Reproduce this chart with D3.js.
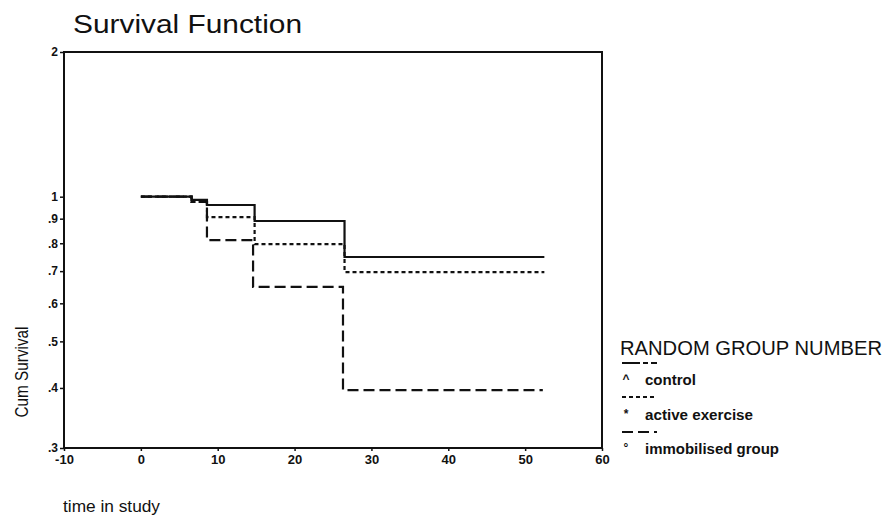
<!DOCTYPE html>
<html>
<head>
<meta charset="utf-8">
<script src="https://cdn.jsdelivr.net/npm/d3@7/dist/d3.min.js"></script>
<style>
  html, body { margin: 0; padding: 0; background: #fff; }
  svg { display: block; }
  text { font-family: "Liberation Sans", Arial, Helvetica, sans-serif; fill: #111; }
</style>
</head>
<body>
<svg id="chart" width="890" height="527"></svg>
<script>
// Kaplan–Meier survival by randomised group
const categories = ["control", "active exercise", "immobilised group"];

// step times (start of each step) and cumulative survival after that time
const controlTimes     = [0, 6.6, 8.6, 14.8, 26.5, 52.5];
const controlSurvival  = [1.0, 0.985, 0.961, 0.890, 0.749, 0.749];
const activeTimes      = [0, 6.6, 8.6, 14.8, 26.5, 52.5];
const activeSurvival   = [1.0, 0.975, 0.907, 0.797, 0.697, 0.697];
const immobTimes       = [0, 6.6, 8.6, 14.6, 26.3, 52.3];
const immobSurvival    = [1.0, 0.975, 0.812, 0.649, 0.396, 0.396];

const xTickValues = [-10, 0, 10, 20, 30, 40, 50, 60];
const xTickLabels = ["-10", "0", "10", "20", "30", "40", "50", "60"];
const yTickValues = [0.3, 0.4, 0.5, 0.6, 0.7, 0.8, 0.9, 1, 2];
const yTickLabels = [".3", ".4", ".5", ".6", ".7", ".8", ".9", "1", "2"];

const svg = d3.select("#chart");

const plot = { left: 64, right: 602, top: 52, bottom: 448 };

const x = d3.scaleLinear().domain([-10, 60]).range([plot.left, plot.right]);
const y = d3.scaleLog().domain([0.3, 2]).range([plot.bottom, plot.top]);

// title
svg.append("text")
  .attr("x", 73).attr("y", 33)
  .attr("font-size", 25)
  .attr("textLength", 229).attr("lengthAdjust", "spacingAndGlyphs")
  .text("Survival Function");

// plot frame
svg.append("rect")
  .attr("x", plot.left).attr("y", plot.top)
  .attr("width", plot.right - plot.left).attr("height", plot.bottom - plot.top)
  .attr("fill", "none").attr("stroke", "#111").attr("stroke-width", 2);

// x axis
const xAxis = d3.axisBottom(x)
  .tickValues(xTickValues)
  .tickFormat((d, i) => xTickLabels[i])
  .tickSize(3).tickSizeOuter(0).tickPadding(4);
const gx = svg.append("g").attr("transform", `translate(0,${plot.bottom})`).call(xAxis);
gx.select(".domain").remove();
gx.selectAll("line").attr("stroke", "#111").attr("stroke-width", 1.5);
gx.selectAll("text")
  .attr("font-size", 13).attr("font-weight", "bold")
  .attr("font-family", "Liberation Sans, Arial, sans-serif").attr("fill", "#111");

// y axis (log scale)
const yAxis = d3.axisLeft(y)
  .tickValues(yTickValues)
  .tickFormat((d, i) => yTickLabels[i])
  .tickSize(4).tickSizeOuter(0).tickPadding(2);
const gy = svg.append("g").attr("transform", `translate(${plot.left},0)`).call(yAxis);
gy.select(".domain").remove();
gy.selectAll("line").attr("stroke", "#111").attr("stroke-width", 1.5);
gy.selectAll("text")
  .attr("font-size", 12).attr("font-weight", "bold")
  .attr("font-family", "Liberation Sans, Arial, sans-serif").attr("fill", "#111");

// axis titles
svg.append("text")
  .attr("transform", "translate(28,372) rotate(-90)")
  .attr("text-anchor", "middle")
  .attr("font-size", 19)
  .attr("textLength", 91).attr("lengthAdjust", "spacingAndGlyphs")
  .text("Cum Survival");

svg.append("text")
  .attr("x", 63).attr("y", 512)
  .attr("font-size", 16)
  .attr("textLength", 97).attr("lengthAdjust", "spacingAndGlyphs")
  .text("time in study");

// survival curves
const series = [
  { name: categories[0], times: controlTimes, surv: controlSurvival, dash: null },
  { name: categories[1], times: activeTimes,  surv: activeSurvival,  dash: "4,3" },
  { name: categories[2], times: immobTimes,   surv: immobSurvival,   dash: "11,5" }
];

const line = d3.line()
  .x(d => x(d[0]))
  .y(d => y(d[1]))
  .curve(d3.curveStepAfter);

// draw the two broken-line groups first so the solid control line sits on top
[series[2], series[1], series[0]].forEach(s => {
  const pts = s.times.map((t, i) => [t, s.surv[i]]);
  svg.append("path")
    .datum(pts)
    .attr("d", line)
    .attr("fill", "none")
    .attr("stroke", "#111")
    .attr("stroke-width", 2.2)
    .attr("stroke-dasharray", s.dash);
});

// legend
const lg = svg.append("g");
lg.append("text")
  .attr("x", 620).attr("y", 355)
  .attr("font-size", 20)
  .attr("textLength", 262).attr("lengthAdjust", "spacingAndGlyphs")
  .text("RANDOM GROUP NUMBER");

const legendRows = [
  { sampleY: 363, textY: 385, marker: "^", textLen: 51,  dash: "18,3,5,3,6" },
  { sampleY: 397, textY: 420, marker: "*", textLen: 108, dash: "4,3" },
  { sampleY: 432, textY: 454, marker: "°", textLen: 134, dash: "11,5" }
];
legendRows.forEach((r, i) => {
  lg.append("line")
    .attr("x1", 622).attr("x2", 657)
    .attr("y1", r.sampleY).attr("y2", r.sampleY)
    .attr("stroke", "#111").attr("stroke-width", 2)
    .attr("stroke-dasharray", r.dash);
  lg.append("text")
    .attr("x", 626).attr("y", r.textY - 2)
    .attr("text-anchor", "middle")
    .attr("font-size", 12).attr("font-weight", "bold")
    .text(r.marker);
  lg.append("text")
    .attr("x", 645).attr("y", r.textY)
    .attr("font-size", 14).attr("font-weight", "bold")
    .attr("textLength", r.textLen).attr("lengthAdjust", "spacingAndGlyphs")
    .text(categories[i]);
});
</script>
</body>
</html>
